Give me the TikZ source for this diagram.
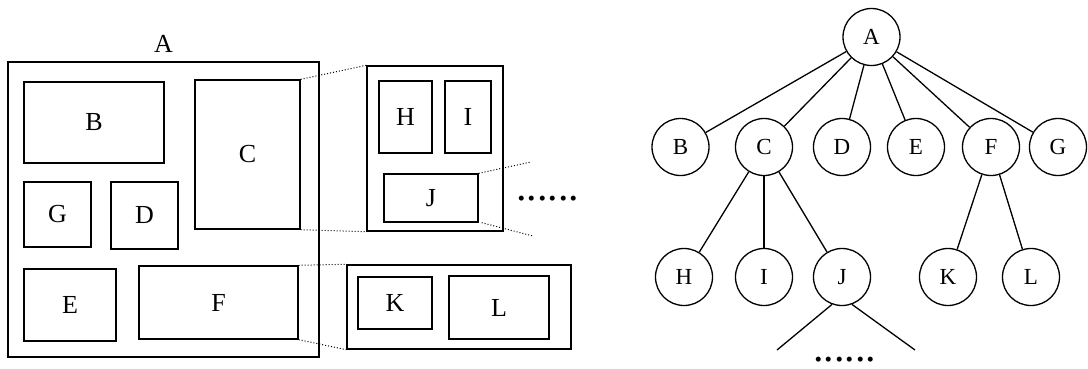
\documentclass[tikz,border=0pt]{standalone}
\usepackage{fontspec}
\setmainfont{Liberation Serif}
\usetikzlibrary{positioning}

\begin{document}
\begin{tikzpicture}[x=1pt, y=-1pt, font=\fontsize{26}{26}\selectfont,
  box/.style 2 args={draw, line width=1.4pt, inner sep=0pt, minimum width=#1pt, minimum height=#2pt},
  zoomline/.style={dotted, line width=1pt},
  vert/.style={draw, circle, line width=1.3pt, inner sep=0pt, minimum size=57pt, font=\fontsize{23}{23}\selectfont},
  edge/.style={line width=1.3pt},
  dots/.style={inner sep=0pt, font=\fontsize{42}{42}\selectfont}]
\useasboundingbox (0,0) rectangle (1088,368);
% nested boxes
\node[box={311}{295}] (outer) at (163.5,209.5) {};
\node[above=5pt of outer] (lblA) {A};
\node[box={140}{81}] (B) at (94,122.5) {B};
\node[box={105}{149}] (C) at (247.5,154.5) {C};
\node[box={67}{65}] (G) at (57.5,214.5) {G};
\node[box={67}{67}] (D) at (144.5,215.5) {D};
\node[box={92}{72}] (E) at (70,305) {\raisebox{-7pt}{E}};
\node[box={159}{73}] (F) at (218.5,302.5) {\raisebox{-5pt}{F}};
% zoom of C
\node[box={136}{165}] (Cx) at (435,148.5) {};
\node[box={53}{72}] (H) at (405.5,117) {H};
\node[box={46}{72}] (I) at (468,117) {I};
\node[box={94}{48}] (J) at (431,198) {\raisebox{-3pt}{J}};
\coordinate (jtop) at (531,162);
\coordinate (jbot) at (533,236);
\node[dots] (moreJ) at (547.5,199) {......};
% zoom of F
\node[box={224}{84}] (Fx) at (459,307) {};
\node[box={74}{52}] (K) at (395,303) {K};
\node[box={100}{63}] (L) at (499,307.5) {\raisebox{-4pt}{L}};
\draw[zoomline] (C.north east) -- (Cx.north west);
\draw[zoomline] (C.south east) -- (Cx.south west);
\draw[zoomline] (F.north east) -- (Fx.north west);
\draw[zoomline] (F.south east) -- (Fx.south west);
\draw[zoomline] (J.north east) -- (jtop);
\draw[zoomline] ([xshift=3pt]J.south east) -- (jbot);
% tree
\node[vert] (tA) at (871.5,37) {A};
\node[vert] (tB) at (680.5,147) {B};
\node[vert] (tC) at (764,147) {C};
\node[vert] (tD) at (842,147) {D};
\node[vert] (tE) at (916,147) {E};
\node[vert] (tF) at (991,147) {F};
\node[vert] (tG) at (1058,147) {G};
\node[vert] (tH) at (684,277) {H};
\node[vert] (tI) at (764,277) {I};
\node[vert] (tJ) at (842,277) {J};
\node[vert] (tK) at (948,277) {K};
\node[vert] (tL) at (1031,277) {L};
\coordinate (jl) at (777,350);
\coordinate (jr) at (915,350);
\foreach \p/\c in {tA/tB, tA/tC, tA/tD, tA/tE, tA/tF, tA/tG, tC/tH, tC/tI, tC/tJ, tF/tK, tF/tL}
  \draw[edge] (\p) -- (\c);
\draw[edge] (tJ.250) -- (jl);
\draw[edge] (tJ.290) -- (jr);
\node[dots] (moreT) at (844.5,360) {......};
\end{tikzpicture}
\end{document}
